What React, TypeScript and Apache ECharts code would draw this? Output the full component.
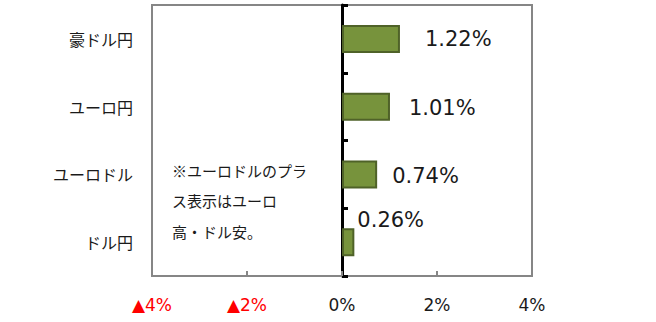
import React, { useEffect, useRef } from "react";
import * as echarts from "echarts";

const categories = ["豪ドル円", "ユーロ円", "ユーロドル", "ドル円"];
const values = [1.22, 1.01, 0.74, 0.26];
const xTicks = [-4, -2, 0, 2, 4];
const noteLines = ["※ユーロドルのプラ", "ス表示はユーロ", "高・ドル安。"];

const labelNudges: Array<{ distance: number; dy: number }> = [
  { distance: 25, dy: 0 },
  { distance: 19, dy: 1 },
  { distance: 15, dy: 2 },
  { distance: 3, dy: -22 },
];

export default function App() {
  const ref = useRef<HTMLDivElement>(null);
  useEffect(() => {
    const chart = echarts.init(ref.current!, null, { renderer: "svg" });
    chart.setOption({
      animation: false,
      grid: {
        left: 152,
        right: 124,
        top: 5,
        bottom: 46,
        show: true,
        borderColor: "#868686",
        borderWidth: 2,
      },
      xAxis: {
        type: "value",
        min: xTicks[0],
        max: xTicks[xTicks.length - 1],
        interval: 2,
        splitLine: { show: false },
        axisLine: { show: true, onZero: false, lineStyle: { color: "#868686", width: 2 } },
        axisTick: { show: true, inside: true, length: 5, lineStyle: { color: "#868686", width: 2 } },
        axisLabel: {
          margin: 20,
          fontSize: 17,
          fontFamily: "DejaVu Sans, Verdana, sans-serif",
          formatter: (v: number) => (v < 0 ? "▲" + Math.abs(v) + "%" : v + "%"),
          color: (v: any) => (Number(v) < 0 ? "#FF0000" : "#1a1a1a"),
        },
      },
      yAxis: [
        {
          type: "category",
          data: categories,
          inverse: true,
          position: "left",
          axisLine: { show: false, onZero: false },
          axisTick: { show: false },
          axisLabel: {
            margin: 19,
            fontSize: 16,
            color: "#1a1a1a",
            fontFamily: "Noto Sans CJK JP, sans-serif",
          },
        },
        {
          type: "category",
          data: categories,
          inverse: true,
          position: "left",
          axisLine: { show: true, onZero: true, lineStyle: { color: "#000", width: 3 } },
          axisTick: { show: true, inside: true, length: 6, lineStyle: { color: "#000", width: 3 } },
          axisLabel: { show: false },
        },
      ],
      graphic: [
        {
          type: "text",
          left: 172,
          top: 155,
          style: {
            text: noteLines.join("\n"),
            fontSize: 15,
            lineHeight: 30.5,
            fill: "#1a1a1a",
            fontFamily: "Noto Sans CJK JP, sans-serif",
          },
        },
      ],
      series: [
        {
          type: "bar",
          yAxisIndex: 1,
          barWidth: 28,
          data: values.map((v, i) => ({
            value: v,
            label: {
              show: true,
              position: "right",
              distance: labelNudges[i].distance,
              offset: [0, labelNudges[i].dy],
            },
          })),
          itemStyle: { color: "#77933C", borderColor: "#4F6228", borderWidth: 2 },
          label: {
            show: true,
            formatter: (p: any) => p.value.toFixed(2) + "%",
            fontSize: 21,
            color: "#1a1a1a",
            fontFamily: "DejaVu Sans, Verdana, sans-serif",
          },
        },
      ],
    });
    return () => chart.dispose();
  }, []);
  return <div ref={ref} style={{ width: 656, height: 322, position: "absolute", left: 0, top: 0 }} />;
}
